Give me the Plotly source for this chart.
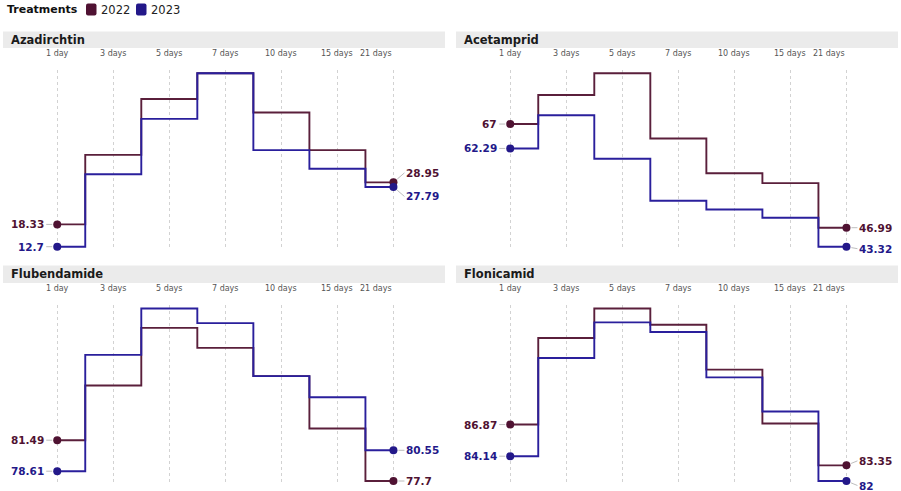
import plotly.graph_objects as go

# ---- data -------------------------------------------------------------
days = ["1 day", "3 days", "5 days", "7 days", "10 days", "15 days", "21 days"]
treatments = ["Azadirchtin", "Acetamprid", "Flubendamide", "Flonicamid"]
years = ["2022", "2023"]

azadirchtin_2022 = [18.33, 35.9, 50.0, 56.5, 46.6, 37.1, 28.95]
azadirchtin_2023 = [12.7, 31.0, 45.0, 56.5, 37.1, 32.4, 27.79]
acetamprid_2022 = [67, 72.6, 76.8, 64.2, 57.5, 55.6, 46.99]
acetamprid_2023 = [62.29, 68.7, 60.3, 52.2, 50.5, 48.9, 43.32]
flubendamide_2022 = [81.49, 86.57, 91.92, 90.06, 87.44, 82.58, 77.7]
flubendamide_2023 = [78.61, 89.41, 93.72, 92.36, 87.44, 85.48, 80.55]
flonicamid_2022 = [86.87, 94.33, 96.88, 95.48, 91.61, 86.96, 83.35]
flonicamid_2023 = [84.14, 92.61, 95.68, 94.85, 90.94, 87.99, 82]

series = {
    "Azadirchtin": (azadirchtin_2022, azadirchtin_2023),
    "Acetamprid": (acetamprid_2022, acetamprid_2023),
    "Flubendamide": (flubendamide_2022, flubendamide_2023),
    "Flonicamid": (flonicamid_2022, flonicamid_2023),
}

# ---- styling ----------------------------------------------------------
W, H = 901, 491
FONT = "DejaVu Sans"
colors = {"2022": "#4f1232", "2023": "#231889"}
line_colors = {"2022": "#5a1f3b", "2023": "#2a1f9c"}

# panel geometry in pixels
col_px = [(4, 445), (457, 898)]
row_px = [(73.3, 246.7), (308.5, 481.0)]       # span of the data inside each row
strip_px = [(31.5, 48.0), (265.5, 283.0)]
tick_y_px = [53.5, 288.5]
PAD = 0.02

# vertical nudges (pixels) of the end labels to keep them apart
end_label_shift = {
    "Azadirchtin": (-9.5, 9.5),
    "Acetamprid": (0, 2),
    "Flubendamide": (0, 0),
    "Flonicamid": (-4.5, 4.5),
}


def px_x(v):
    return v / W


def px_y(v):
    return 1 - v / H


fig = go.Figure()
annotations = []
shapes = []
layout_axes = {}

for k, name in enumerate(treatments):
    r, c = divmod(k, 2)
    idx = "" if k == 0 else str(k + 1)
    xa, ya = "x" + idx, "y" + idx
    v22, v23 = series[name]

    lo = min(v22 + v23)
    hi = max(v22 + v23)
    span = hi - lo
    top_px, bot_px = row_px[r]
    hpx = bot_px - top_px

    layout_axes["xaxis" + idx] = dict(
        domain=[px_x(col_px[c][0]), px_x(col_px[c][1])],
        anchor=ya,
        type="category",
        categoryorder="array",
        categoryarray=days,
        range=[-0.95, 6.92],
        showticklabels=False,
        ticks="",
        showgrid=True,
        gridcolor="#d2d2d2",
        griddash="dot",
        gridwidth=1,
        zeroline=False,
        showline=False,
        fixedrange=True,
    )
    layout_axes["yaxis" + idx] = dict(
        domain=[px_y(bot_px + PAD * hpx), px_y(top_px - PAD * hpx)],
        anchor=xa,
        range=[lo - PAD * span, hi + PAD * span],
        showticklabels=False,
        ticks="",
        showgrid=False,
        zeroline=False,
        showline=False,
        fixedrange=True,
    )

    for yr, vals in zip(years, (v22, v23)):
        fig.add_trace(go.Scatter(
            x=days, y=vals, xaxis=xa, yaxis=ya,
            mode="lines", line=dict(shape="hvh", color=line_colors[yr], width=1.9),
            name=yr, showlegend=False, hoverinfo="skip",
        ))
        fig.add_trace(go.Scatter(
            x=[days[0], days[-1]], y=[vals[0], vals[-1]], xaxis=xa, yaxis=ya,
            mode="markers", marker=dict(color=colors[yr], size=8),
            showlegend=False, cliponaxis=False, hoverinfo="skip",
        ))

    # value labels at first and last sampling day
    for j, (yr, vals) in enumerate(zip(years, (v22, v23))):
        common = dict(
            xref=xa, yref=ya, showarrow=True, arrowhead=0, arrowwidth=0.7,
            arrowcolor="#a0a0a0", standoff=5,
            font=dict(family=FONT, size=10.5, color=colors[yr], weight="bold"),
        )
        annotations.append(dict(
            x=days[0], y=vals[0], text=f"{vals[0]:g}", ax=-11, ay=0,
            xanchor="right", **common,
        ))
        annotations.append(dict(
            x=days[-1], y=vals[-1], text=f"{vals[-1]:g}", ax=11,
            ay=end_label_shift[name][j], xanchor="left", **common,
        ))

    # facet strip
    s_top, s_bot = strip_px[r]
    shapes.append(dict(
        type="rect", xref="paper", yref="paper", layer="below",
        x0=px_x(col_px[c][0] - 1), x1=px_x(col_px[c][1]),
        y0=px_y(s_bot), y1=px_y(s_top),
        fillcolor="#ebebeb", line=dict(width=0),
    ))
    annotations.append(dict(
        xref="paper", yref="paper", x=px_x(col_px[c][0] + 5), y=px_y((s_top + s_bot) / 2),
        text=name, showarrow=False, xanchor="left", yanchor="middle",
        font=dict(family=FONT, size=11.5, color="#1a1a1a", weight="bold"),
    ))

    # day labels along the top of each panel
    for i, d in enumerate(days):
        annotations.append(dict(
            xref=xa, yref="paper", x=d, y=px_y(tick_y_px[r]),
            text=d, showarrow=False,
            xanchor="right" if i == len(days) - 1 else "center",
            xshift=1 if i == len(days) - 1 else 0,
            yanchor="middle",
            font=dict(family=FONT, size=8, color="#555555"),
        ))

# ---- legend ------------------------------------------------------------
annotations.append(dict(
    xref="paper", yref="paper", x=px_x(5), y=px_y(9.5), text="Treatments",
    showarrow=False, xanchor="left", yanchor="middle",
    font=dict(family=FONT, size=11, color="#111111", weight="bold"),
))
legend_x = [(86, 96.5, 99), (136, 146.5, 149)]
for yr, (x0, x1, tx) in zip(years, legend_x):
    y0, y1 = 3.5, 15.5
    rr = 2
    path = (
        f"M {px_x(x0 + rr)},{px_y(y0)} L {px_x(x1 - rr)},{px_y(y0)} "
        f"Q {px_x(x1)},{px_y(y0)} {px_x(x1)},{px_y(y0 + rr)} "
        f"L {px_x(x1)},{px_y(y1 - rr)} Q {px_x(x1)},{px_y(y1)} {px_x(x1 - rr)},{px_y(y1)} "
        f"L {px_x(x0 + rr)},{px_y(y1)} Q {px_x(x0)},{px_y(y1)} {px_x(x0)},{px_y(y1 - rr)} "
        f"L {px_x(x0)},{px_y(y0 + rr)} Q {px_x(x0)},{px_y(y0)} {px_x(x0 + rr)},{px_y(y0)} Z"
    )
    shapes.append(dict(type="path", xref="paper", yref="paper", path=path,
                       fillcolor=colors[yr], line=dict(width=0)))
    annotations.append(dict(
        xref="paper", yref="paper", x=px_x(tx), y=px_y(9.5), text=yr,
        showarrow=False, xanchor="left", yanchor="middle",
        font=dict(family=FONT, size=11.5, color="#222222"),
    ))

fig.update_layout(
    width=W, height=H,
    margin=dict(l=0, r=0, t=0, b=0),
    paper_bgcolor="white", plot_bgcolor="white",
    showlegend=False,
    annotations=annotations,
    shapes=shapes,
    font=dict(family=FONT),
    **layout_axes,
)

fig.write_html("out.html", config={"displayModeBar": False})
